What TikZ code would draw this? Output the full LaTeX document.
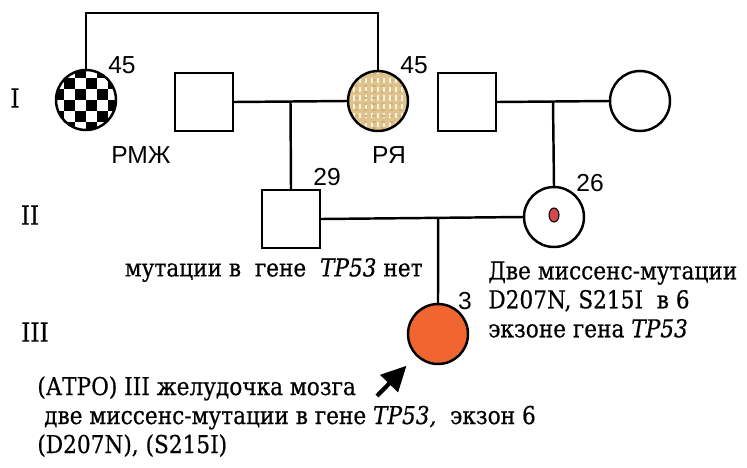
\documentclass[tikz,border=0pt]{standalone}
\usepackage{fontspec}
\setmainfont{DejaVu Serif}[FakeStretch=0.88, FakeBold=0.5]
\newfontfamily\agefont{Liberation Sans}
\usetikzlibrary{arrows.meta}

\definecolor{childorange}{RGB}{240,101,48}
\definecolor{dotred}{RGB}{212,70,80}
\definecolor{weave}{RGB}{222,196,140}

\tikzset{
  male/.style={draw, line width=1.4pt, minimum size=1.16cm, inner sep=0pt},
  female/.style={draw, circle, line width=1.4pt, minimum size=1.2cm, inner sep=0pt},
  link/.style={line width=1.4pt},
  checker/.style={path picture={
    \foreach \col in {-3,...,2}
      \foreach \row in {-3,...,2} {
        \pgfmathtruncatemacro\cellodd{mod(\col+\row+6,2)}
        \ifnum\cellodd=0
          \fill[black, shift={(path picture bounding box.center)}] (\col*11,\row*11) rectangle ++(11,11);
        \fi
      }
  }},
  woven/.style={fill=weave, path picture={
    \foreach \k in {-30,-24,...,30} {
      \draw[white!75!weave, line width=1.4pt, dash pattern=on 3pt off 2pt, shift={(path picture bounding box.center)}] (\k,-32) -- (\k,32);
      \draw[weave!70!brown, line width=0.6pt, dash pattern=on 2pt off 3pt, shift={(path picture bounding box.center)}] (-32,\k+3) -- (32,\k+3);
    }
  }},
  agelabel/.style={font=\agefont\fontsize{14}{16}\selectfont, inner sep=0pt},
  note/.style={font=\fontsize{14}{16.5}\selectfont, align=left, inner sep=0pt},
  genlabel/.style={font=\fontsize{15}{17}\selectfont, inner sep=0pt},
  pointer/.style={line width=2.4pt, -{Triangle[length=0.5cm,width=0.48cm]}, shorten >=0.27cm}
}

\begin{document}
\begin{tikzpicture}[x=0.02cm, y=-0.02cm]
  \useasboundingbox (0,0) rectangle (747,467);
  \node[female, checker] (I1) at (86,100) {};
  \node[male] (I2) at (204,102) {};
  \node[female, woven] (I3) at (378,101) {};
  \node[male] (I4) at (467,102) {};
  \node[female] (I5) at (640,101) {};
  \node[male] (II1) at (291,219) {};
  \node[female] (II2) at (554,217) {};
  \fill[dotred] (554,215) ellipse (5 and 7);
  \draw[line width=0.6pt] (554,215) ellipse (5 and 7);
  \node[female, fill=childorange] (III1) at (438,334) {};

  \draw[link] (I1.north) -- ++(0,-56) -| (I3.north);
  \draw[link] (I2.east) -- coordinate[pos=0.5] (mI) (I3.west);
  \draw[link] (mI) -- (II1.north);
  \draw[link] (I4.east) -- coordinate[pos=0.5] (mII) (I5.west);
  \draw[link] (mII) -- (II2.north);
  \draw[link] (II1.east) -- coordinate[pos=0.58] (mIII) (II2.west);
  \draw[link] (mIII) -- (III1.north);

  \node[agelabel] (ageI1) at (122,65) {45};
  \node[agelabel] (ageI3) at (414,65) {45};
  \node[agelabel] (dxI1) at (141,155) {РМЖ};
  \node[agelabel] (dxI3) at (389,155) {РЯ};
  \node[agelabel] (ageII1) at (327,177) {29};
  \node[agelabel] (ageII2) at (590,183) {26};
  \node[agelabel] (ageIII1) at (465,301) {3};

  \node[genlabel] (genI) at (15,98) {I};
  \node[genlabel] (genII) at (30,215) {II};
  \node[genlabel] (genIII) at (35,332) {III};

  \node[note, anchor=east] (noteII1) at (423,270) {мутации в\ \ гене\ \ \textit{TP53} нет};
  \node[note, anchor=north west] (noteII2) at (488,261) {Две миссенс-мутации\\D207N, S215I\ \ в 6\\экзоне гена \textit{TP53}};
  \node[note, anchor=north west] (noteIII1) at (37,376) {(АТРО) III желудочка мозга\\\ две миссенс-мутации в гене \textit{TP53,}\ \ экзон 6\\(D207N), (S215I)};

  \coordinate (arrowtail) at (377,396);
  \draw[pointer] (arrowtail) -- (III1.225);
\end{tikzpicture}
\end{document}
